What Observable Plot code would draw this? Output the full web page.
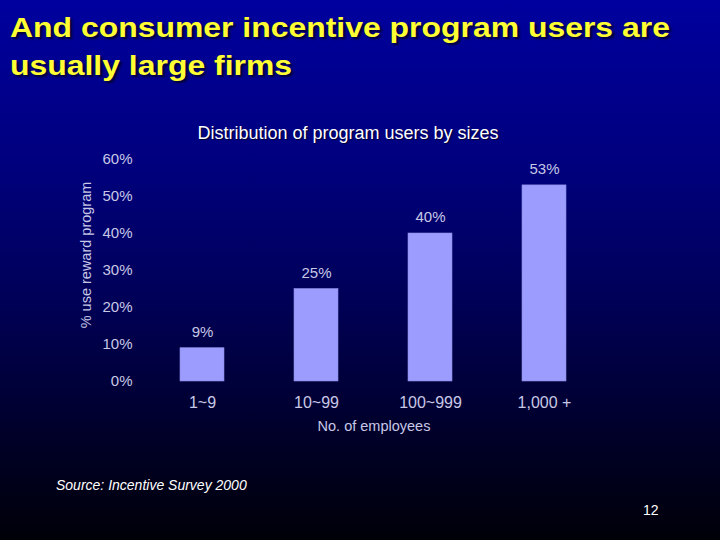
<!DOCTYPE html>
<html>
<head>
<meta charset="utf-8">
<script src="https://cdn.jsdelivr.net/npm/d3@7"></script>
<script src="https://cdn.jsdelivr.net/npm/@observablehq/plot@0.6"></script>
<style>
  html, body { margin: 0; padding: 0; }
  body { width: 720px; height: 540px; overflow: hidden; }
  #slide {
    position: relative; width: 720px; height: 540px;
    background: linear-gradient(180deg, #00009e 0%, #00007e 30%, #000058 55%, #00002a 80%, #000008 100%);
    font-family: "Liberation Sans", Arial, sans-serif;
  }
  #title {
    position: absolute; left: 10px; top: 9px; width: 620px;
    color: #ffff33; font-weight: bold; font-size: 28px; line-height: 38px;
    text-shadow: 2px 2px 2px #000033; white-space: nowrap;
    transform: scaleX(1.14); transform-origin: left top;
  }
  #subtitle {
    position: absolute; left: 0; width: 696px; top: 123px; text-align: center;
    color: #ffffff; font-size: 18px; text-shadow: 1px 1px 1px #000033;
  }
  #ylabel {
    position: absolute; left: 86px; top: 255px; color: #c8c8e6; font-size: 14.5px;
    transform: translate(-50%, -50%) rotate(-90deg); white-space: nowrap;
  }
  #source {
    position: absolute; left: 56px; top: 477px; color: #ffffff; font-size: 14px; font-style: italic;
  }
  #page {
    position: absolute; left: 643px; top: 502px; color: #ffffff; font-size: 14px;
  }
  #chart { position: absolute; left: 0; top: 0; }
</style>
</head>
<body>
<div id="slide">
  <div id="chart"></div>
  <div id="title">And consumer incentive program users are<br>usually large firms</div>
  <div id="subtitle">Distribution of program users by sizes</div>
  <div id="ylabel">% use reward program</div>
  <div id="source">Source: Incentive Survey 2000</div>
  <div id="page">12</div>
</div>
<script>
const categories = ["1~9", "10~99", "100~999", "1,000 +"];
const values = [9, 25, 40, 53];
const yTicks = [0, 10, 20, 30, 40, 50, 60];
const xTitle = "No. of employees";

const data = categories.map((c, i) => ({size: c, pct: values[i]}));

const chart = Plot.plot({
  width: 720,
  height: 540,
  marginTop: 159,
  marginBottom: 159,
  marginLeft: 140,
  marginRight: 113,
  style: {background: "transparent", color: "#c8c8e6", fontSize: "15px", fontFamily: "'Liberation Sans', Arial, sans-serif"},
  x: {domain: categories, paddingInner: 0.61, paddingOuter: 0.336},
  y: {domain: [0, 60]},
  marks: [
    Plot.barY(data, {x: "size", y: "pct", fill: "#9c9cff", stroke: "#8a8ae0", strokeWidth: 0.6}),
    Plot.text(data, {x: "size", y: "pct", text: d => d.pct + "%", dy: -16, fill: "#c8c8e6", fontSize: 15}),
    Plot.axisY({ticks: yTicks, tickFormat: d => d + "%", tickSize: 0, tickPadding: 8, label: null, fontSize: 15}),
    Plot.axisX({tickSize: 0, tickPadding: 15, label: null, fontSize: 16}),
    Plot.axisX({tickSize: 0, ticks: [], label: xTitle, labelAnchor: "center", labelOffset: 49, fontSize: 14.5})
  ]
});
document.getElementById("chart").appendChild(chart);
</script>
</body>
</html>
